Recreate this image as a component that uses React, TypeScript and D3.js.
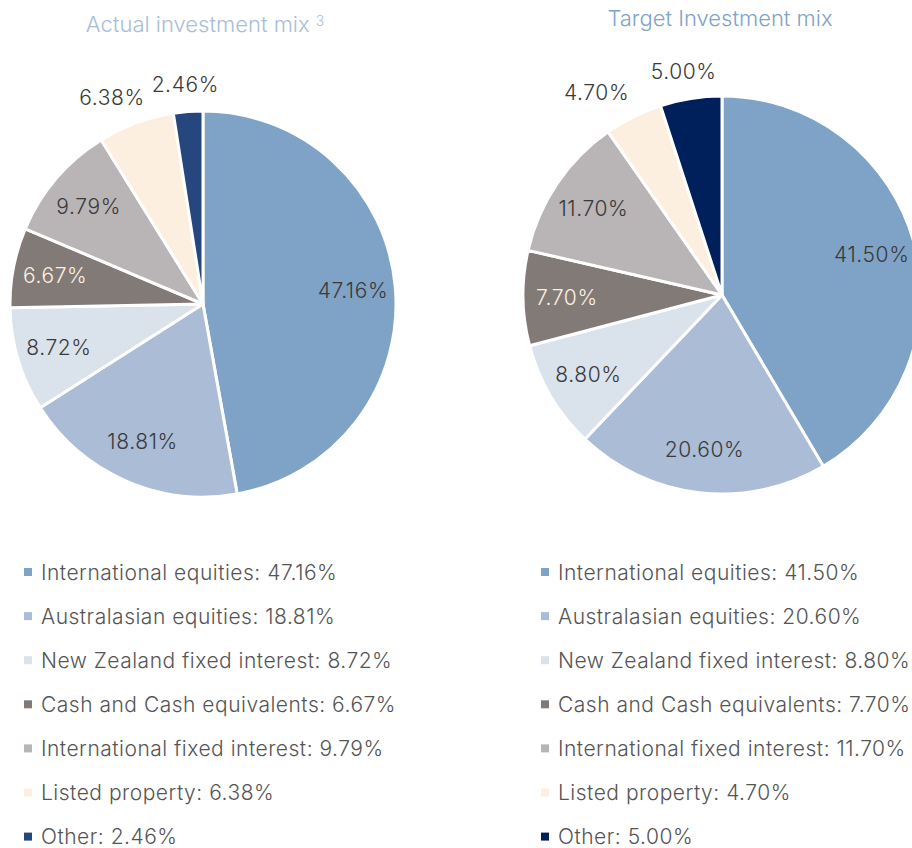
import React from "react";
import * as d3 from "d3";

const categories = [
  "International equities",
  "Australasian equities",
  "New Zealand fixed interest",
  "Cash and Cash equivalents",
  "International fixed interest",
  "Listed property",
  "Other",
];
const actualValues = [47.16, 18.81, 8.72, 6.67, 9.79, 6.38, 2.46];
const targetValues = [41.5, 20.6, 8.8, 7.7, 11.7, 4.7, 5.0];
const actualColors = ["#7fa3c6", "#aabcd6", "#dae2ec", "#827a77", "#b9b4b5", "#fdefe0", "#26477d"];
const targetColors = ["#7fa3c6", "#aabcd6", "#dae2ec", "#827a77", "#b9b4b5", "#fdefe0", "#00205b"];
const FONT = "Inter, 'Liberation Sans', sans-serif";

type PieProps = {
  values: number[];
  colors: string[];
  cx: number;
  cy: number;
  r: number;
};

function Pie({ values, colors, cx, cy, r }: PieProps) {
  const pie = d3.pie<number>().sort(null).value((d) => d);
  const arcs = pie(values);
  const arc = d3.arc<d3.PieArcDatum<number>>().innerRadius(0).outerRadius(r);
  const inner = d3.arc<d3.PieArcDatum<number>>().innerRadius(r * 0.78).outerRadius(r * 0.78);
  const R = r + 27;
  return (
    <g transform={`translate(${cx},${cy})`}>
      {arcs.map((a, i) => (
        <path key={i} d={arc(a) || ""} fill={colors[i]} stroke="#fff" strokeWidth={3} strokeLinejoin="round" />
      ))}
      {arcs.map((a, i) => {
        const isOut = a.data < 6.5;
        let x: number, y: number;
        if (isOut) {
          const mid = (a.startAngle + a.endAngle) / 2;
          const s = Math.sin(mid);
          x = R * s * (1 + 0.55 * Math.abs(s));
          y = -R * Math.cos(mid);
        } else {
          [x, y] = inner.centroid(a);
        }
        const fill = i === 3 ? "#fdf0e1" : "#3a3a3a";
        return (
          <text
            key={"t" + i}
            x={x}
            y={y}
            textAnchor="middle"
            dominantBaseline="central"
            fontSize={21}
            fontWeight={300}
            letterSpacing={0.6}
            fill={fill}
            fontFamily={FONT}
          >
            {a.data.toFixed(2)}%
          </text>
        );
      })}
    </g>
  );
}

type LegendProps = { values: number[]; colors: string[]; x: number; y: number };
function Legend({ values, colors, x, y }: LegendProps) {
  const ys = d3.scalePoint<number>().domain(d3.range(categories.length)).range([y, y + 6 * 44.1]);
  return (
    <g>
      {categories.map((c, i) => (
        <g key={i} transform={`translate(${x},${ys(i)})`}>
          <rect x={0} y={-4} width={8} height={8} fill={colors[i]} />
          <text x={17} y={0} dominantBaseline="central" fontSize={21} fontWeight={300} letterSpacing={0.5} fill="#555" fontFamily={FONT}>
            {c}: {values[i].toFixed(2)}%
          </text>
        </g>
      ))}
    </g>
  );
}

export default function App() {
  return (
    <svg width={912} height={848} style={{ position: "absolute", left: 0, top: 0 }}>
      <rect width={912} height={848} fill="#fff" />
      <text x={205} y={32} textAnchor="middle" fontSize={22} fontWeight={300} fill="#a9bdd8" fontFamily={FONT}>
        Actual investment mix
        <tspan dx={6} dy={-6} fontSize={14}>3</tspan>
      </text>
      <text x={720} y={26} textAnchor="middle" fontSize={22} fontWeight={300} fill="#7fa3c6" fontFamily={FONT}>
        Target Investment mix
      </text>
      <Pie values={actualValues} colors={actualColors} cx={203} cy={304} r={193} />
      <Pie values={targetValues} colors={targetColors} cx={722} cy={295} r={199} />
      <Legend values={actualValues} colors={actualColors} x={24} y={572} />
      <Legend values={targetValues} colors={targetColors} x={541} y={572} />
    </svg>
  );
}
